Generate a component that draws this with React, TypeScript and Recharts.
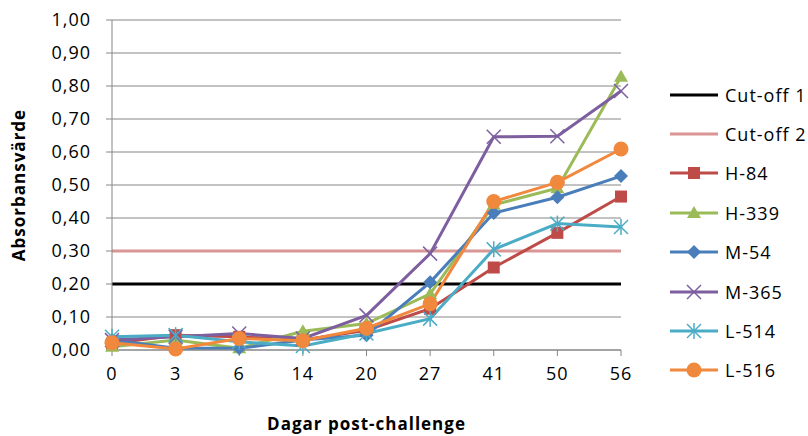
import { LineChart, Line, XAxis, YAxis, CartesianGrid, Legend } from 'recharts'

const days = ['0', '3', '6', '14', '20', '27', '41', '50', '56']
const cutoff1 = [0.2, 0.2, 0.2, 0.2, 0.2, 0.2, 0.2, 0.2, 0.2]
const cutoff2 = [0.3, 0.3, 0.3, 0.3, 0.3, 0.3, 0.3, 0.3, 0.3]
const h84 = [0.02, 0.045, 0.04, 0.03, 0.06, 0.125, 0.25, 0.355, 0.465]
const h339 = [0.01, 0.03, 0.005, 0.057, 0.08, 0.17, 0.44, 0.49, 0.828]
const m54 = [0.03, 0.005, 0.005, 0.03, 0.045, 0.205, 0.415, 0.463, 0.527]
const m365 = [0.03, 0.04, 0.05, 0.035, 0.105, 0.292, 0.646, 0.648, 0.785]
const l514 = [0.04, 0.045, 0.025, 0.012, 0.05, 0.095, 0.305, 0.383, 0.373]
const l516 = [0.022, 0.003, 0.035, 0.028, 0.066, 0.14, 0.45, 0.508, 0.609]
const yTicks = [0, 0.1, 0.2, 0.3, 0.4, 0.5, 0.6, 0.7, 0.8, 0.9, 1]

type Shape = 'none' | 'square' | 'triangle' | 'diamond' | 'x' | 'star' | 'circle'

const SERIES: { key: string; name: string; color: string; shape: Shape; values: number[] }[] = [
  { key: 'c1', name: 'Cut-off 1', color: '#000000', shape: 'none', values: cutoff1 },
  { key: 'c2', name: 'Cut-off 2', color: '#D99694', shape: 'none', values: cutoff2 },
  { key: 'h84', name: 'H-84', color: '#BE4B48', shape: 'square', values: h84 },
  { key: 'h339', name: 'H-339', color: '#9BBB59', shape: 'triangle', values: h339 },
  { key: 'm54', name: 'M-54', color: '#4A7EBB', shape: 'diamond', values: m54 },
  { key: 'm365', name: 'M-365', color: '#7D5FA0', shape: 'x', values: m365 },
  { key: 'l514', name: 'L-514', color: '#4BACC6', shape: 'star', values: l514 },
  { key: 'l516', name: 'L-516', color: '#F0883E', shape: 'circle', values: l516 },
]

const data = days.map((d, i) => {
  const row: any = { day: d }
  SERIES.forEach(s => { row[s.key] = s.values[i] })
  return row
})

const FONT = '"Open Sans", sans-serif'

function Marker({ shape, cx, cy, color }: { shape: Shape; cx: number; cy: number; color: string }) {
  if (shape === 'square') return <rect x={cx - 6} y={cy - 6} width={12} height={12} fill={color} />
  if (shape === 'triangle') return <polygon points={`${cx},${cy - 7} ${cx + 7},${cy + 5} ${cx - 7},${cy + 5}`} fill={color} />
  if (shape === 'diamond') return <polygon points={`${cx},${cy - 7} ${cx + 7},${cy} ${cx},${cy + 7} ${cx - 7},${cy}`} fill={color} />
  if (shape === 'x') return (
    <g stroke={color} strokeWidth={1.5}>
      <line x1={cx - 7} y1={cy - 7} x2={cx + 7} y2={cy + 7} />
      <line x1={cx - 7} y1={cy + 7} x2={cx + 7} y2={cy - 7} />
    </g>
  )
  if (shape === 'star') return (
    <g stroke={color} strokeWidth={1.5}>
      <line x1={cx - 7} y1={cy - 7} x2={cx + 7} y2={cy + 7} />
      <line x1={cx - 7} y1={cy + 7} x2={cx + 7} y2={cy - 7} />
      <line x1={cx} y1={cy - 8} x2={cx} y2={cy + 8} />
    </g>
  )
  if (shape === 'circle') return <circle cx={cx} cy={cy} r={7.5} fill={color} />
  return null
}

function renderLegend() {
  return (
    <div style={{ fontFamily: FONT, fontSize: 18, letterSpacing: 1 }}>
      {SERIES.map(s => (
        <div key={s.key} style={{ display: 'flex', alignItems: 'center', height: 39.4 }}>
          <svg width={56} height={20} style={{ overflow: 'visible' }}>
            <line x1={2} y1={10} x2={50} y2={10} stroke={s.color} strokeWidth={3} />
            <Marker shape={s.shape} cx={26} cy={10} color={s.color} />
          </svg>
          <span style={{ color: '#000', marginLeft: 1 }}>{s.name}</span>
        </div>
      ))}
    </div>
  )
}

export default function App() {
  return (
    <div style={{ position: 'absolute', left: 0, top: 0, background: '#fff' }}>
      <LineChart
        width={808}
        height={436}
        data={data}
        margin={{ top: 20, right: 187, bottom: 26, left: 12 }}
        style={{ fontFamily: FONT }}
      >
        <CartesianGrid vertical={false} stroke="#868686" strokeWidth={1} />
        <XAxis
          dataKey="day"
          axisLine={{ stroke: '#868686' }}
          tickLine={{ stroke: '#868686' }}
          tick={{ fill: '#000', fontSize: 18, letterSpacing: 1 }}
          tickMargin={11}
          height={60}
          interval={0}
          label={{ value: 'Dagar post-challenge', position: 'bottom', offset: 8, fill: '#000', fontSize: 17, fontWeight: 'bold', letterSpacing: 1 }}
        />
        <YAxis
          domain={[0, 1]}
          ticks={yTicks}
          interval={0}
          width={100}
          axisLine={{ stroke: '#868686' }}
          tickLine={{ stroke: '#868686' }}
          tick={{ fill: '#000', fontSize: 18, letterSpacing: 1 }}
          tickMargin={15}
          tickFormatter={(v: number) => v.toFixed(2).replace('.', ',')}
          label={{ value: 'Absorbansvärde', angle: -90, position: 'insideLeft', offset: 7, fill: '#000', fontSize: 17, fontWeight: 'bold', letterSpacing: 1, style: { textAnchor: 'middle' } }}
        />
        <Legend
          layout="vertical"
          align="center"
          verticalAlign="middle"
          content={renderLegend}
          wrapperStyle={{ left: 668, top: 75, width: 140 }}
        />
        {SERIES.map(s => (
          <Line
            key={s.key}
            dataKey={s.key}
            name={s.name}
            stroke={s.color}
            strokeWidth={3}
            isAnimationActive={false}
            activeDot={false}
            dot={s.shape === 'none' ? false : (p: any) => <Marker key={`${s.key}-${p.index}`} shape={s.shape} cx={p.cx} cy={p.cy} color={s.color} />}
          />
        ))}
      </LineChart>
    </div>
  )
}
